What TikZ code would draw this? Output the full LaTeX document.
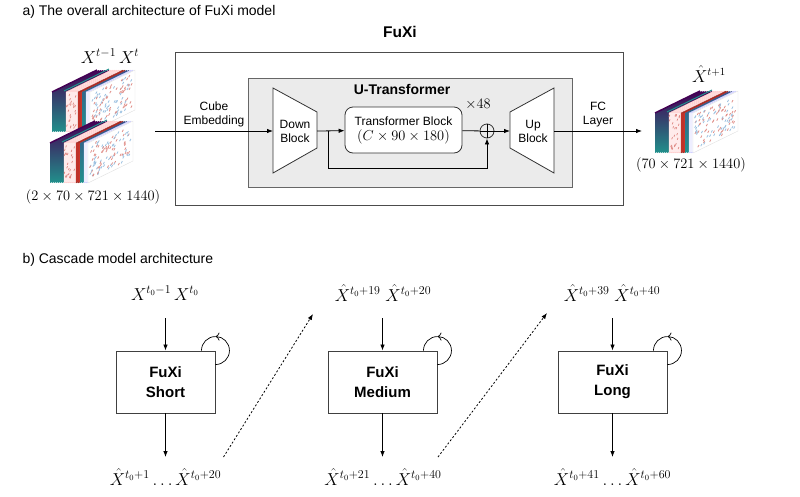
\documentclass[tikz,border=0pt]{standalone}
\usepackage{fontspec}
\setmainfont{Liberation Sans}
\usetikzlibrary{calc,arrows.meta,positioning}
\definecolor{vpurple}{HTML}{440154}
\definecolor{vblue}{HTML}{3B528B}
\definecolor{vteal}{HTML}{21918C}
\definecolor{vgreen}{HTML}{5EC962}
\definecolor{vyellow}{HTML}{C8E020}
\definecolor{mapred}{HTML}{C8352B}
\definecolor{mapblue}{HTML}{4A8FC8}
\definecolor{utgray}{HTML}{EBEBEB}
\tikzset{
	virmap/.style={top color=vpurple, middle color=vyellow, bottom color=vteal},
	pinkmap/.style={fill=red!5, draw=red!25, line width=.3pt},
	redmap/.style={fill=mapred, draw=mapred!70!black, line width=.3pt},
	tealmap/.style={top color=vblue, middle color=vgreen, bottom color=vteal},
	palemap/.style={fill=blue!4, draw=blue!25, line width=.3pt},
	frontmap/.style={fill=white, draw=black!12, line width=.4pt}
}
\def\datacube(#1,#2){%
	\begin{scope}[shift={(#1,#2)}]
		\foreach \k/\st in {0/virmap,1/virmap,2/virmap,3/virmap,4/virmap,5/virmap,6/virmap,7/pinkmap,8/pinkmap,9/pinkmap,10/pinkmap,11/pinkmap,12/pinkmap,13/redmap,14/redmap,15/tealmap,16/tealmap,17/palemap,18/palemap,19/frontmap}{
			\path[\st] ({2*\k},0) -- ({2*\k},-40) -- ({2*\k+45},-62) -- ({2*\k+45},-22) -- cycle;
		}
		\draw[vpurple, line width=1.5pt] (0,-40) -- (45,-62);
		\draw[vteal, line width=1pt] (12,-41) -- (57,-63);
		\pgfmathsetseed{#1}
		\foreach \k in {1,...,110}{
			\pgfmathsetmacro\su{0.03+0.9*rnd}
			\pgfmathsetmacro\sv{3+33*rnd}
			\ifodd\k \def\spk{mapred}\else\def\spk{mapblue}\fi
			\draw[\spk!55, line width=.8pt] ({38+45*\su},{-\sv-22*\su}) -- ++(1.2,-2.2);
		}
		\foreach \k in {1,...,25}{
			\pgfmathsetmacro\sv{3+34*rnd}
			\draw[mapred!60, line width=.7pt] ({14+10*rnd},{-\sv}) -- ++(0.8,-2);
		}
	\end{scope}}

\begin{document}
\begin{tikzpicture}[x=1pt, y=-1pt, font=\fontsize{12}{14}\selectfont,
	>={Latex[length=6pt,width=4.5pt]},
	lbl/.style={align=center, inner sep=1pt},
	dimlbl/.style={font=\fontsize{15}{18}\selectfont, inner sep=1pt},
	varlbl/.style={font=\fontsize{17}{20}\selectfont, inner sep=1pt},
	ttl/.style={font=\fontsize{15.5}{18}\selectfont\bfseries},
	fxbox/.style={draw=black!75, line width=.9pt, minimum height=62pt, align=center, font=\fontsize{15}{20}\selectfont\bfseries},
	looparrow/.style={-{To[length=4pt,width=8pt]}, line width=.7pt}]
	%%%%% START %%%%%
	\useasboundingbox (0,0) rectangle (800,496);
	
	% a) FuXi
	\node[anchor=west, font=\fontsize{14}{16}\selectfont] (capa) at (19,12) {a) The overall architecture of FuXi model};
	\node[ttl] (fuxi) at (400,32) {FuXi};
	\draw[black!70, line width=1pt] (175,52) rectangle (623,205);
	\draw[fill=utgray, draw=black!60, line width=.8pt] (248,78) rectangle (572,187);
	\node[font=\fontsize{14}{16}\selectfont\bfseries] (ut) at (402,89) {U-Transformer};
	
	\draw[fill=white, draw=black!80, line width=.8pt] (273,88) -- (317,112) -- (317,148) -- (273,173) -- cycle;
	\node[lbl] (down) at (295,131) {Down\\Block};
	\draw[fill=white, draw=black!80, line width=.8pt] (510,112) -- (554,88) -- (554,173) -- (510,148) -- cycle;
	\node[lbl] (up) at (533,131) {Up\\Block};
	\coordinate (downin) at (273,131);
	\coordinate (downout) at (317,131);
	\coordinate (upin) at (510,131);
	\coordinate (upout) at (554,131);
	\coordinate (skip) at (328,131);
	
	\node[draw=black!80, line width=.8pt, fill=white, rounded corners=8pt, minimum width=117pt, minimum height=46pt, align=center] (tblock) at (403.5,130) {Transformer Block\\[1pt]{\fontsize{14}{16}\selectfont$(C\times 90\times 180)$}};
	\node[dimlbl, font=\fontsize{14}{16}\selectfont] (rep) at (478,104) {$\times 48$};
	\node[draw=black!80, line width=.8pt, circle, inner sep=0pt, minimum size=14pt] (plus) at (487,131) {};
	\draw[line width=.8pt] (plus.north) -- (plus.south) (plus.west) -- (plus.east);
	
	\datacube(52,132)
	\datacube(50,183)
	\datacube(655,153)
	\coordinate (xin) at (155,131);
	\coordinate (xout) at (642,131);
	\node[varlbl] (xlbl) at (110,56) {$X^{t-1}\,X^{t}$};
	\node[dimlbl] (xdim) at (93,197) {$(2\times 70\times 721\times 1440)$};
	\node[varlbl, font=\fontsize{16}{18}\selectfont] (ylbl) at (709,74) {$\hat{X}^{t+1}$};
	\node[dimlbl] (ydim) at (691,165) {$(70\times 721\times 1440)$};
	
	\draw[->, line width=.8pt] (xin) -- node[above=3pt, lbl] (cube) {Cube\\Embedding} (downin);
	\draw[->, line width=.8pt] (downout) -- (tblock);
	\draw[line width=.8pt] (tblock) -- (plus);
	\draw[->, line width=.8pt] (plus) -- (upin);
	\draw[->, line width=.8pt] (skip) -- ++(0,37) -| (plus.south);
	\draw[->, line width=.8pt] (upout) -- node[above=3pt, lbl] (fc) {FC\\Layer} (xout);
	
	% b) cascade
	\node[anchor=west, font=\fontsize{14}{16}\selectfont] (capb) at (19,260) {b) Cascade model architecture};
	\node[fxbox, minimum width=99pt] (short) at (165.5,382) {FuXi\\Short};
	\node[fxbox, minimum width=109pt] (medium) at (382.5,382) {FuXi\\Medium};
	\node[fxbox, minimum width=109pt] (long) at (612.5,382) {FuXi\\Long};
	
	\node[varlbl] (in1) at (165,293) {$X^{t_0-1}\,X^{t_0}$};
	\node[varlbl] (in2) at (383,293) {$\hat{X}^{t_0+19}\;\hat{X}^{t_0+20}$};
	\node[varlbl] (in3) at (612,293) {$\hat{X}^{t_0+39}\;\hat{X}^{t_0+40}$};
	\node[varlbl] (out1) at (165.5,477) {$\hat{X}^{t_0+1}\dots\hat{X}^{t_0+20}$};
	\node[varlbl] (out2) at (383,477) {$\hat{X}^{t_0+21}\dots\hat{X}^{t_0+40}$};
	\node[varlbl] (out3) at (612.5,477) {$\hat{X}^{t_0+41}\dots\hat{X}^{t_0+60}$};
	
	\foreach \b/\i/\o in {short/in1/out1, medium/in2/out2, long/in3/out3}{
		\draw[->, line width=.8pt] ([yshift=-25pt]\i.center -| \b.north) -- (\b.north);
		\draw[->, line width=.8pt] (\b.south) -- ([yshift=20pt]\o.center -| \b.south);
		\draw[looparrow] ([yshift=-14pt]\b.north east) arc (90:-90:14);
		\draw[line width=.7pt] ([yshift=14pt]\b.north east) arc (-90:-180:14);
	}
	
	\draw[->, line width=.8pt, dash pattern=on 2pt off 2pt] ([xshift=58pt,yshift=20pt]out1.center) -- ([xshift=-70pt,yshift=-21pt]in2.center);
	\draw[->, line width=.8pt, dash pattern=on 2pt off 2pt] ([xshift=55pt,yshift=20pt]out2.center) -- ([xshift=-65pt,yshift=-20pt]in3.center);
	%%%%% END %%%%%
\end{tikzpicture}
\end{document}
